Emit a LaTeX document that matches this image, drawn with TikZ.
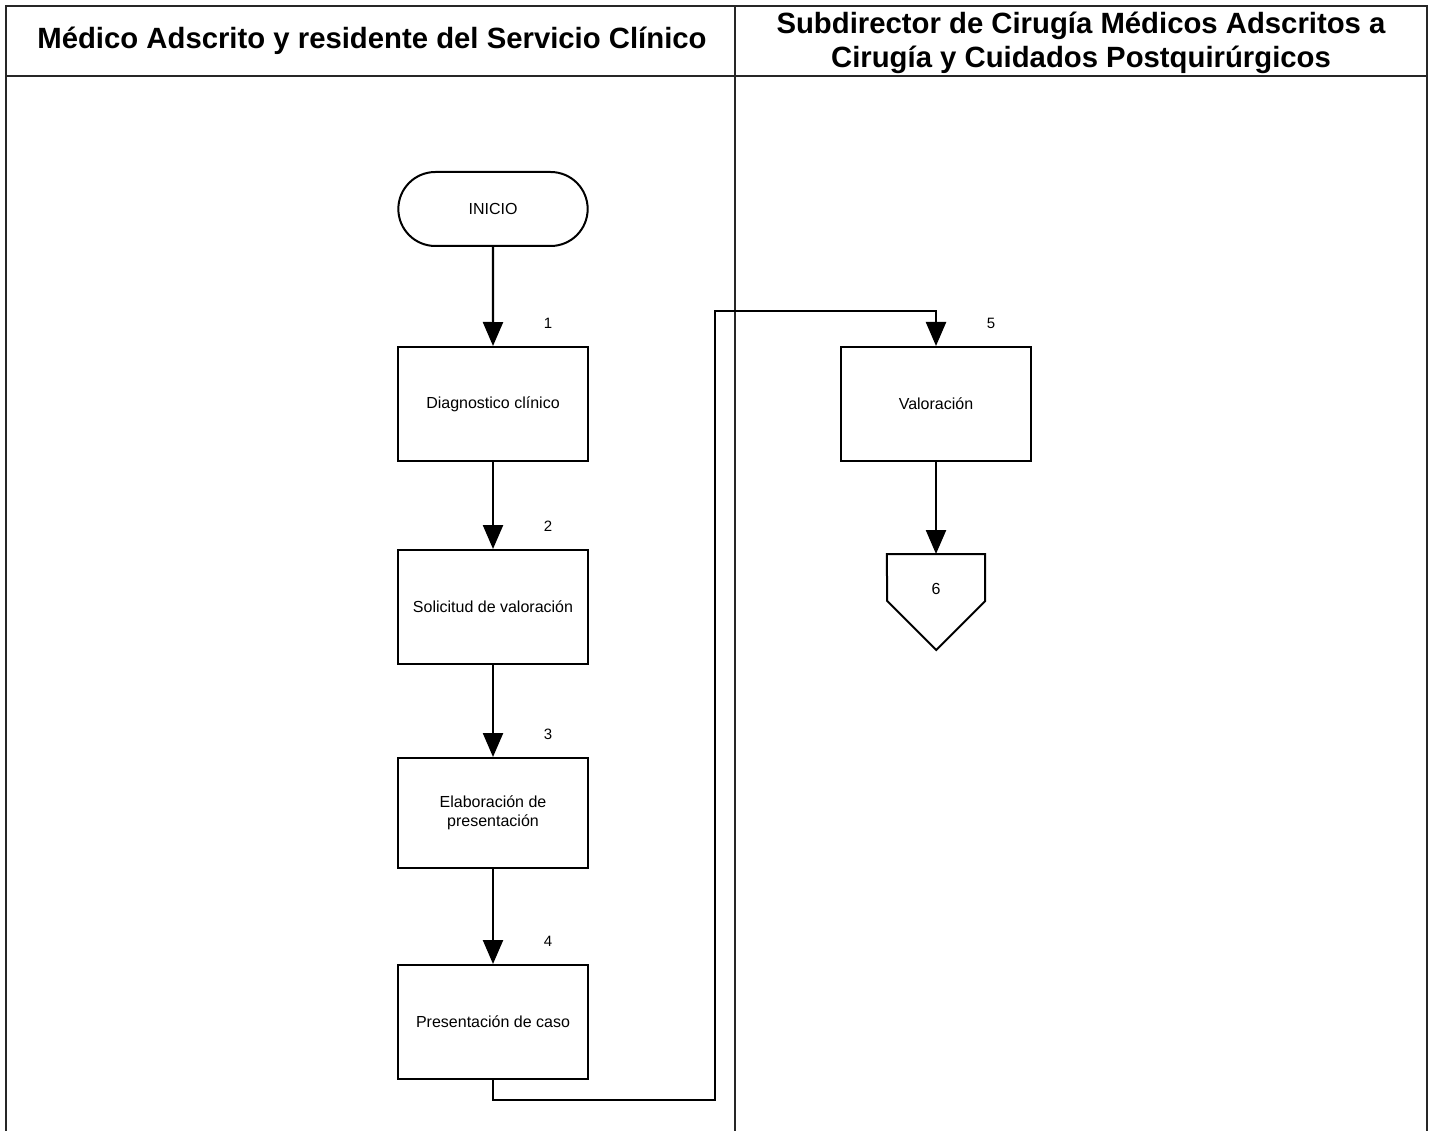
\documentclass[tikz,border=0pt]{standalone}
\usepackage{fontspec}
\setmainfont{Liberation Sans}
\usetikzlibrary{positioning,shapes.misc,arrows.meta}
\tikzset{
  >={Triangle[width=20pt,length=24pt]},
  lane/.style={draw=black!85, line width=1.2pt},
  header/.style={font=\fontsize{29.3}{34}\selectfont\bfseries, align=center},
  proc/.style={draw, line width=2pt, minimum width=190pt, minimum height=114pt,
    font=\fontsize{16}{19}\selectfont, align=center},
  term/.style={draw, rounded rectangle, line width=2pt, minimum width=196pt,
    minimum height=74pt, font=\fontsize{16}{19}\selectfont},
  offpage/.style={inner sep=0pt, minimum width=98pt, minimum height=70pt,
    font=\fontsize{16}{19}\selectfont},
  offline/.style={line width=2pt, line join=miter},
  stepnum/.style={font=\fontsize{15}{18}\selectfont, xshift=55pt, label distance=14pt},
  flow/.style={->, line width=2.4pt},
}
\begin{document}
\begin{tikzpicture}[x=1pt, y=-1pt]
    \useasboundingbox (0,0) rectangle (1434,1131);
    % swimlanes
    \draw[lane] (6,1131) -- (6,6) -- (1427,6) -- (1427,1131);
    \draw[lane] (6,76) -- (1427,76);
    \draw[lane] (735,6) -- (735,1131);
    \node[header] (lanea) at (372,41) {Médico Adscrito y residente del Servicio Clínico};
    \node[header] (laneb) at (1081,43) {Subdirector de Cirugía Médicos Adscritos a\\Cirugía y Cuidados Postquirúrgicos};

    \node[term] (inicio) at (493,209) {INICIO};
    \node[proc, below=99pt of inicio, label={[stepnum]above:1}] (diag) {Diagnostico clínico};
    \node[proc, below=87pt of diag, label={[stepnum]above:2}] (solic) {Solicitud de valoración};
    \node[proc, below=92pt of solic, minimum height=110pt, label={[stepnum]above:3}] (elab) {Elaboración de\\presentación};
    \node[proc, below=95pt of elab, label={[stepnum]above:4}] (pres) {Presentación de caso};
    \node[proc, label={[stepnum]above:5}] (valor) at (936,404) {Valoración};
    \node[offpage, below=92pt of valor] (conn6) {6};
    \draw[offline] (conn6.north west) -- (conn6.north east) -- ++(0,47)
      -- ++(-49,49) -- ++(-49,-49) -- cycle;

    \coordinate (lowturn) at (715,1100);
    \coordinate (highturn) at (715,311);

    \draw[flow] (inicio) -- (diag);
    \draw[flow] (diag) -- (solic);
    \draw[flow] (solic) -- (elab);
    \draw[flow] (elab) -- (pres);
    \draw[flow] (pres.south) |- (lowturn) -- (highturn) -| (valor.north);
    \draw[flow] (valor) -- (conn6);
\end{tikzpicture}
\end{document}
